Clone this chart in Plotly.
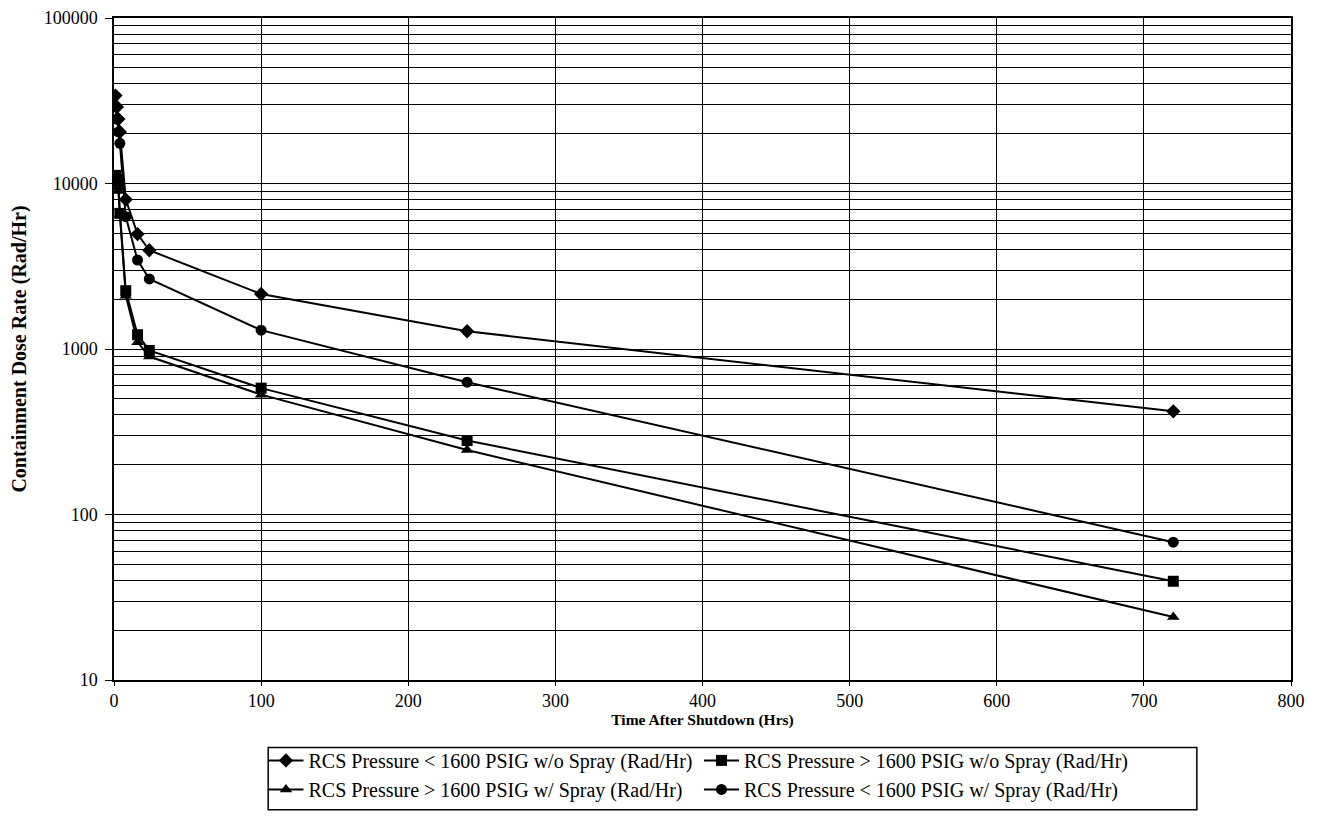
import plotly.graph_objects as go

times = [1, 2, 3, 4, 8, 16, 24, 100, 240, 720]
lt_no_spray = [34000, 29000, 24500, 20500, 8000, 4950, 3950, 2150, 1280, 420]
gt_no_spray = [11200, 10500, 9800, 6600, 2250, 1220, 980, 580, 280, 39.5]
gt_spray = [10500, 9500, 9000, 6500, 2100, 1100, 900, 530, 245, 24]
lt_spray = [29000, 24500, 20500, 17500, 6300, 3450, 2650, 1300, 630, 68]

names = [
    "RCS Pressure < 1600 PSIG w/o Spray (Rad/Hr)",
    "RCS Pressure > 1600 PSIG w/o Spray (Rad/Hr)",
    "RCS Pressure > 1600 PSIG w/ Spray (Rad/Hr)",
    "RCS Pressure < 1600 PSIG w/ Spray (Rad/Hr)",
]
series = [lt_no_spray, gt_no_spray, gt_spray, lt_spray]
symbols = ["diamond", "square", "triangle-up", "circle"]
legend_ids = ["legend", "legend2", "legend", "legend2"]

fig = go.Figure()
for n, s, sym, lg in zip(names, series, symbols, legend_ids):
    fig.add_trace(go.Scatter(
        x=times, y=s, name=n, mode="lines+markers", legend=lg,
        line=dict(color="black", width=2),
        marker=dict(symbol=sym, size=11, color="black"),
    ))

font = "Liberation Serif"
leg_common = dict(
    orientation="v", yanchor="top", bgcolor="rgba(0,0,0,0)", borderwidth=0,
    font=dict(family=font, size=20), itemwidth=35, tracegroupgap=0,
)
fig.update_layout(
    width=1311, height=832,
    paper_bgcolor="white", plot_bgcolor="white",
    margin=dict(l=106, r=28, t=10, b=160, autoexpand=False),
    font=dict(family=font, color="black", size=18),
    xaxis=dict(
        range=[0, 800], dtick=100, tick0=0,
        showgrid=True, gridcolor="black", gridwidth=1,
        showline=True, linecolor="black", linewidth=1.5, mirror=True,
        ticks="outside", ticklen=4, tickcolor="black",
        zeroline=False, automargin=False, ticklabeloverflow="allow",
        tickfont=dict(family=font, size=18),
        title=dict(text="<b>Time After Shutdown (Hrs)</b>", font=dict(family=font, size=15.5), standoff=4),
    ),
    yaxis=dict(
        type="log", range=[1, 5],
        tickvals=[10, 100, 1000, 10000, 100000],
        ticktext=["10", "100", "1000", "10000", "100000"],
        showgrid=True, gridcolor="black", gridwidth=1.3,
        minor=dict(dtick="D1", showgrid=True, gridcolor="black", gridwidth=1, ticks=""),
        showline=True, linecolor="black", linewidth=1.5, mirror=True,
        ticks="outside", ticklen=7, tickcolor="black", automargin=False,
        ticklabeloverflow="allow", ticklabelstandoff=4,
        tickfont=dict(family=font, size=18),
        title=dict(text="<b>Containment Dose Rate (Rad/Hr)</b>", font=dict(family=font, size=20), standoff=13),
    ),
    legend=dict(x=0.127, y=-0.092, **leg_common),
    legend2=dict(x=0.497, y=-0.092, **leg_common),
    shapes=[dict(type="rect", xref="paper", yref="paper",
                 x0=0.131, x1=0.92, y0=-0.196, y1=-0.102,
                 line=dict(color="black", width=1.5))],
    showlegend=True,
)

fig.write_html("out.html")
